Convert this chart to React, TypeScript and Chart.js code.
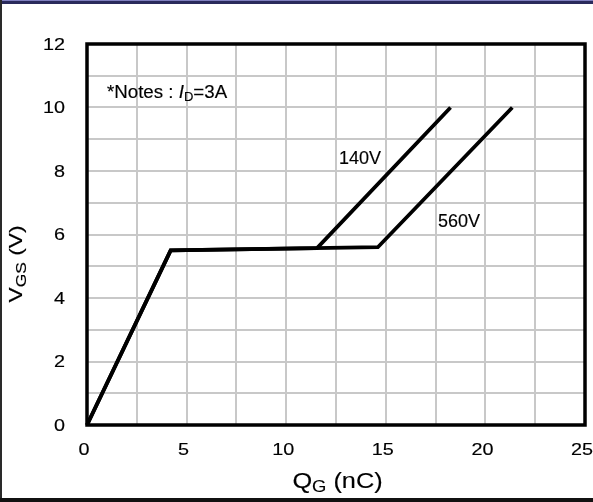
import React, { useEffect, useRef } from 'react';
import { Chart, registerables } from 'chart.js';

Chart.register(...registerables);

// ---- data ----
const qg140 = [0, 4.2, 11.55, 18.25];
const vgs140 = [0, 5.5, 5.57, 10];
const qg560 = [0, 4.2, 14.6, 21.35];
const vgs560 = [0, 5.5, 5.6, 10];

const X_MIN = 0;
const X_MAX = 25;
const X_GRID_STEP = 2.5;
const X_LABEL_STEP = 5;
const Y_MIN = 0;
const Y_MAX = 12;
const Y_GRID_STEP = 1;
const Y_LABEL_STEP = 2;

// annotation anchors (data coordinates: left x, baseline y)
const labelTexts = ['140V', '560V'];
const labelX = [12.65, 17.62];
const labelY = [8.22, 6.25];
const noteX = 1.0;
const noteY = 10.29;

const FONT = '"Liberation Sans", Arial, sans-serif';

type Part = { t: string; size: number; italic?: boolean; dy?: number };

function fontStr(size: number, italic?: boolean) {
  return `${italic ? 'italic ' : ''}${size}px ${FONT}`;
}

function drawRich(
  ctx: CanvasRenderingContext2D,
  parts: Part[],
  x: number,
  y: number,
  align: 'left' | 'center' | 'right',
  stretch: number,
  rotate = 0
) {
  ctx.save();
  ctx.fillStyle = '#000';
  ctx.strokeStyle = '#000';
  ctx.lineWidth = 0.15;
  ctx.textBaseline = 'alphabetic';
  ctx.textAlign = 'left';
  let w = 0;
  const ws = parts.map((p) => {
    ctx.font = fontStr(p.size, p.italic);
    const m = ctx.measureText(p.t).width;
    w += m;
    return m;
  });
  ctx.translate(x, y);
  if (rotate) ctx.rotate(rotate);
  ctx.scale(stretch, 1);
  let cx = align === 'left' ? 0 : align === 'center' ? -w / 2 : -w;
  parts.forEach((p, i) => {
    ctx.font = fontStr(p.size, p.italic);
    ctx.fillText(p.t, cx, p.dy || 0);
    ctx.strokeText(p.t, cx, p.dy || 0);
    cx += ws[i];
  });
  ctx.restore();
}

const decor = {
  id: 'decor',
  beforeDraw(chart: any) {
    const ctx = chart.ctx as CanvasRenderingContext2D;
    ctx.save();
    ctx.fillStyle = '#fff';
    ctx.fillRect(0, 0, chart.width, chart.height);
    ctx.restore();
  },
  afterDraw(chart: any) {
    const ctx = chart.ctx as CanvasRenderingContext2D;
    const { left, right, top, bottom } = chart.chartArea;
    const xs = chart.scales.x;
    const ys = chart.scales.y;

    // outer frame
    ctx.save();
    ctx.fillStyle = '#2a2a5c';
    ctx.fillRect(0, 0, chart.width, 4);
    ctx.fillStyle = '#8080c0';
    ctx.fillRect(0, 0, chart.width, 1);
    ctx.fillStyle = '#2a2a2a';
    ctx.fillRect(0, 0, 2, chart.height);
    ctx.fillStyle = '#111';
    ctx.fillRect(0, chart.height - 4, chart.width, 4);
    ctx.restore();

    // plot border
    ctx.save();
    ctx.strokeStyle = '#000';
    ctx.lineWidth = 3.5;
    ctx.strokeRect(left, top, right - left, bottom - top);
    ctx.restore();

    // tick labels
    const TS = 16.5;
    xs.ticks.forEach((t: any) => {
      if (Math.abs(t.value / X_LABEL_STEP - Math.round(t.value / X_LABEL_STEP)) > 1e-6) return;
      const px = xs.getPixelForValue(t.value);
      drawRich(ctx, [{ t: String(t.value), size: TS }], px - 3, 455, 'center', 1.2);
    });
    ys.ticks.forEach((t: any) => {
      if (Math.abs(t.value / Y_LABEL_STEP - Math.round(t.value / Y_LABEL_STEP)) > 1e-6) return;
      const py = ys.getPixelForValue(t.value);
      drawRich(ctx, [{ t: String(t.value), size: TS }], 65, py + 0.716 * TS / 2, 'right', 1.2);
    });

    // axis titles
    drawRich(
      ctx,
      [
        { t: 'Q', size: 22 },
        { t: 'G', size: 16, dy: 4 },
        { t: ' (nC)', size: 22 },
      ],
      337.5,
      488,
      'center',
      1.15
    );
    drawRich(
      ctx,
      [
        { t: 'V', size: 19 },
        { t: 'GS', size: 14.5, dy: 4 },
        { t: ' (V)', size: 19 },
      ],
      22,
      264,
      'center',
      1.2,
      -Math.PI / 2
    );

    // annotations
    labelTexts.forEach((txt, i) => {
      drawRich(
        ctx,
        [{ t: txt, size: 18 }],
        xs.getPixelForValue(labelX[i]),
        ys.getPixelForValue(labelY[i]),
        'left',
        1.0
      );
    });
    drawRich(
      ctx,
      [
        { t: '*Notes : ', size: 18 },
        { t: 'I', size: 18, italic: true },
        { t: 'D', size: 12.5, dy: 3 },
        { t: '=3A', size: 18 },
      ],
      xs.getPixelForValue(noteX),
      ys.getPixelForValue(noteY),
      'left',
      1.04
    );
  },
};

export default function App() {
  const ref = useRef<HTMLCanvasElement | null>(null);
  useEffect(() => {
    if (!ref.current) return;
    const mk = (xsArr: number[], ysArr: number[]) => xsArr.map((x, i) => ({ x, y: ysArr[i] }));
    const chart = new Chart(ref.current, {
      type: 'scatter',
      data: {
        datasets: [
          {
            label: '140V',
            data: mk(qg140, vgs140),
            showLine: true,
            borderColor: '#000',
            backgroundColor: '#000',
            borderWidth: 3.8,
            pointRadius: 0,
            tension: 0,
            borderJoinStyle: 'miter',
            clip: false,
          } as any,
          {
            label: '560V',
            data: mk(qg560, vgs560),
            showLine: true,
            borderColor: '#000',
            backgroundColor: '#000',
            borderWidth: 3.8,
            pointRadius: 0,
            tension: 0,
            borderJoinStyle: 'miter',
            clip: false,
          } as any,
        ],
      },
      options: {
        responsive: false,
        animation: false,
        events: [],
        layout: { padding: { top: 44, right: 8, left: 0, bottom: 0 } },
        plugins: { legend: { display: false }, tooltip: { enabled: false } },
        scales: {
          x: {
            type: 'linear',
            min: X_MIN,
            max: X_MAX,
            ticks: { stepSize: X_GRID_STEP, display: false },
            grid: { color: '#c8c8c8', lineWidth: 2, drawTicks: false },
            border: { display: false },
            afterFit: (s: any) => {
              s.height = 77;
            },
          },
          y: {
            type: 'linear',
            min: Y_MIN,
            max: Y_MAX,
            ticks: { stepSize: Y_GRID_STEP, display: false },
            grid: { color: '#c8c8c8', lineWidth: 2, drawTicks: false },
            border: { display: false },
            afterFit: (s: any) => {
              s.width = 87;
            },
          },
        },
      },
      plugins: [decor],
    });
    return () => chart.destroy();
  }, []);
  return (
    <div style={{ position: 'absolute', left: 0, top: 0, width: 593, height: 502 }}>
      <canvas ref={ref} width={593} height={502} style={{ display: 'block' }} />
    </div>
  );
}
